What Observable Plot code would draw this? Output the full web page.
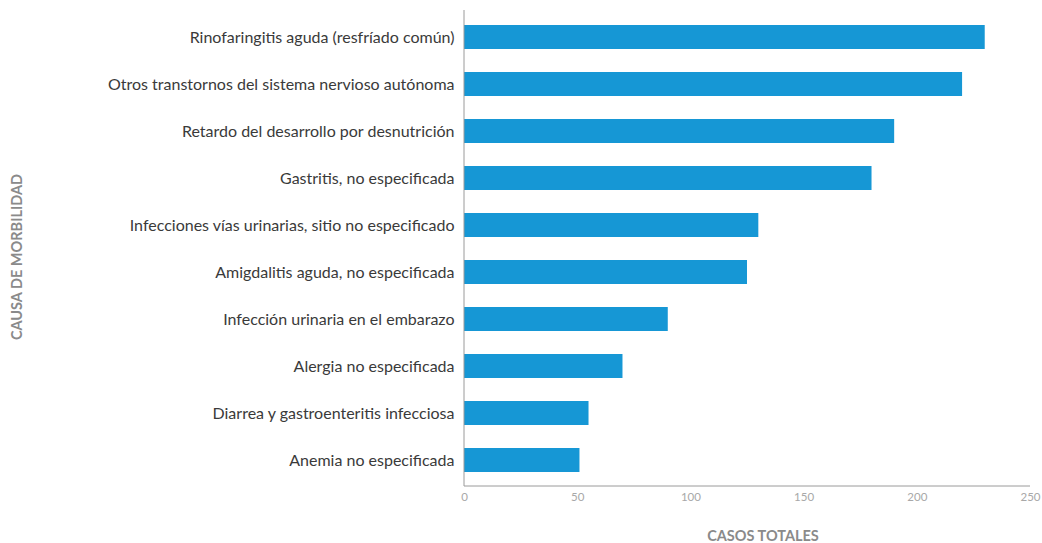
<!DOCTYPE html>
<html><head><meta charset="utf-8">
<script src="https://cdn.jsdelivr.net/npm/d3@7"></script>
<script src="https://cdn.jsdelivr.net/npm/@observablehq/plot@0.6"></script>
<style>
body{margin:0;background:#fff;}
#chart{position:relative;width:1042px;height:543px;}
</style>
</head><body><div id="chart"></div>
<script>
const categories = [
  "Rinofaringitis aguda (resfríado común)",
  "Otros transtornos del sistema nervioso autónoma",
  "Retardo del desarrollo por desnutrición",
  "Gastritis, no especificada",
  "Infecciones vías urinarias, sitio no especificado",
  "Amigdalitis aguda, no especificada",
  "Infección urinaria en el embarazo",
  "Alergia no especificada",
  "Diarrea y gastroenteritis infecciosa",
  "Anemia no especificada"
];
const casos = [230, 220, 190, 180, 130, 125, 90, 70, 55, 51];
const xTicks = [0, 50, 100, 150, 200, 250];

const data = categories.map((c, i) => ({causa: c, casos: casos[i]}));

const chart = Plot.plot({
  width: 1042,
  height: 543,
  marginLeft: 464,
  marginRight: 12,
  marginTop: 10,
  marginBottom: 57,
  style: {fontFamily: "Lato, sans-serif", background: "#fff"},
  x: {domain: [0, 250], ticks: xTicks, label: null},
  y: {domain: categories, paddingInner: 0.5, paddingOuter: 0.25, label: null},
  marks: [
    Plot.barX(data, {x: "casos", y: "causa", fill: "#1697d5"}),
    Plot.axisX({ticks: xTicks, tickSize: 0, tickPadding: 6, fontSize: 11.5, color: "#a8a8a8", label: null}),
    Plot.axisY({tickSize: 0, tickPadding: 10, fontSize: 16, color: "#3a3a3a", label: null})
  ]
});
document.getElementById("chart").appendChild(chart);

const svg = d3.select(chart);
const xs = chart.scale("x");
const x0 = xs.apply(0), x1 = xs.apply(250);
// axis lines
svg.append("line").attr("x1", x0).attr("x2", x0).attr("y1", 10).attr("y2", 486)
  .attr("stroke", "#9a9a9a").attr("stroke-width", 1);
svg.append("line").attr("x1", x0).attr("x2", x1).attr("y1", 486).attr("y2", 486)
  .attr("stroke", "#9a9a9a").attr("stroke-width", 1);

// axis titles
svg.append("text").attr("x", 763).attr("y", 536).attr("dy", "0.35em").attr("text-anchor", "middle")
  .attr("font-family", "Lato, sans-serif").attr("font-weight", "bold").attr("font-size", 14.5)
  .attr("fill", "#8a8a8a").text("CASOS TOTALES");
svg.append("text").attr("transform", "translate(17,257) rotate(-90)").attr("dy", "0.35em").attr("text-anchor", "middle")
  .attr("font-family", "Lato, sans-serif").attr("font-weight", "bold").attr("font-size", 14.5)
  .attr("fill", "#8a8a8a").text("CAUSA DE MORBILIDAD");
</script>
</body></html>
